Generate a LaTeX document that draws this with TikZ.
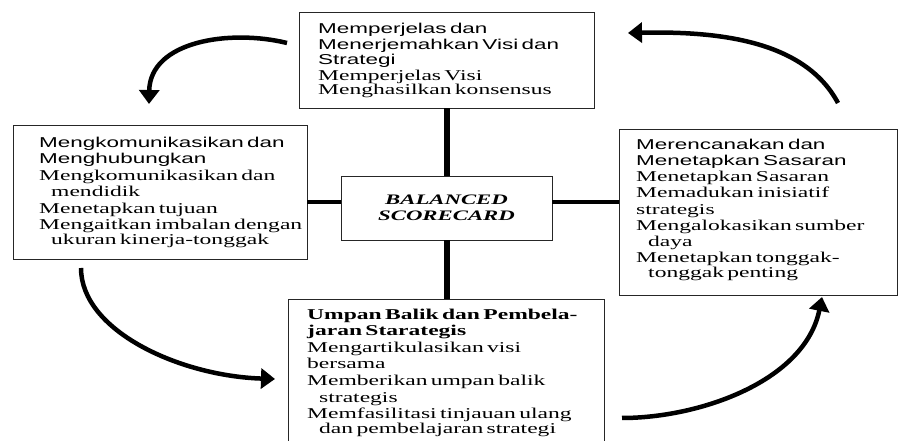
\documentclass[tikz,border=0pt]{standalone}
\usepackage{fontspec}
\usetikzlibrary{arrows.meta,calc}
% Wide set type: Arial/Times metrics stretched horizontally
\newfontfamily\hsans[FakeStretch=1.57]{Liberation Sans}
\newfontfamily\hserif[FakeStretch=1.57]{Liberation Serif}
\newdimen\lsk \lsk=16.5pt
\newcommand\sansf{\hsans\fontsize{14.3}{\lsk}\selectfont}
\newcommand\seriff{\hserif\fontsize{15}{\lsk}\selectfont}
\newcommand\firstln{\noindent\rule{0pt}{11pt}}
\newcommand\ind{\hspace*{12pt}}
\begin{document}
\begin{tikzpicture}[x=1pt,y=1pt,
  panel/.style={draw=black!85, line width=0.9pt, inner sep=0pt},
  body/.style={anchor=north west, inner sep=0pt, text width=285pt, align=left},
  hub/.style={line width=6pt},
  spoke/.style={line width=4.5pt},
  turn/.style={line width=4.5pt, -{Triangle[length=14pt,width=20pt]}}]
\useasboundingbox (0,0) rectangle (900,441);

% the four process panels and the central hub
\node[panel, minimum width=295pt, minimum height=96pt]  (pTop)   at (446.5,381) {};
\node[panel, minimum width=294pt, minimum height=134pt] (pLeft)  at (160,249)   {};
\node[panel, minimum width=278pt, minimum height=166pt] (pRight) at (758,229)   {};
\node[panel, minimum width=316pt, minimum height=150pt] (pBot)   at (446.5,67)  {};
\node[panel, minimum width=211pt, minimum height=64pt, align=center,
      font=\hserif\bfseries\itshape\fontsize{14.5}{16}\selectfont] (bsc) at (446.5,233)
      {BALANCED\\SCORECARD};

% spokes from the hub to each panel
\coordinate (wy) at ($(bsc.west)+(0,6)$);
\coordinate (ey) at ($(bsc.east)+(0,6)$);
\draw[hub] (pTop.south) -- (bsc.north);
\draw[hub] (bsc.south) -- (pBot.north);
\draw[spoke] (pLeft.east |- wy) -- (wy);
\draw[spoke] (ey) -- (pRight.west |- ey);

% panel texts
\node[body] (tTop) at (318,418.5) {\lsk=15.5pt\firstln\sansf Memperjelas dan\\Menerjemahkan Visi dan\\Strategi\\\seriff Memperjelas Visi\\Menghasilkan konsensus};
\node[body] (tLeft) at (39,305) {\lsk=16.5pt\firstln\sansf Mengkomunikasikan dan\\Menghubungkan\\\seriff Mengkomunikasikan dan\\\ind mendidik\\Menetapkan tujuan\\Mengaitkan imbalan dengan\\\ind ukuran kinerja-tonggak};
\node[body] (tRight) at (636,303) {\lsk=16.25pt\firstln\sansf Merencanakan dan\\Menetapkan Sasaran\\\seriff Menetapkan Sasaran\\Memadukan inisiatif\\strategis\\Mengalokasikan sumber\\\ind daya\\Menetapkan tonggak-\\\ind tonggak penting};
\node[body] (tBot) at (307,133) {\lsk=16.6pt\firstln\seriff\bfseries Umpan Balik dan Pembela-\\jaran Starategis\\\mdseries Mengartikulasikan visi\\bersama\\Memberikan umpan balik\\\ind strategis\\Memfasilitasi tinjauan ulang\\\ind dan pembelajaran strategi};

% curved arrows of the cycle
\coordinate (a1s) at (287,398); \coordinate (a1e) at (149,337);
\coordinate (a2s) at (838,338); \coordinate (a2e) at (628,408);
\coordinate (a3s) at (81,173);  \coordinate (a3e) at (275,62);
\coordinate (a4s) at (622,23);  \coordinate (a4e) at (822,144);
\draw[turn] (a1s) .. controls (230,412) and (150,400) .. (a1e);
\draw[turn] (a2s) .. controls (805,400) and (720,410) .. (a2e);
\draw[turn] (a3s) .. controls (81,110) and (180,65) .. (a3e);
\draw[turn] (a4s) .. controls (700,23) and (805,60) .. (a4e);
\end{tikzpicture}
\end{document}
